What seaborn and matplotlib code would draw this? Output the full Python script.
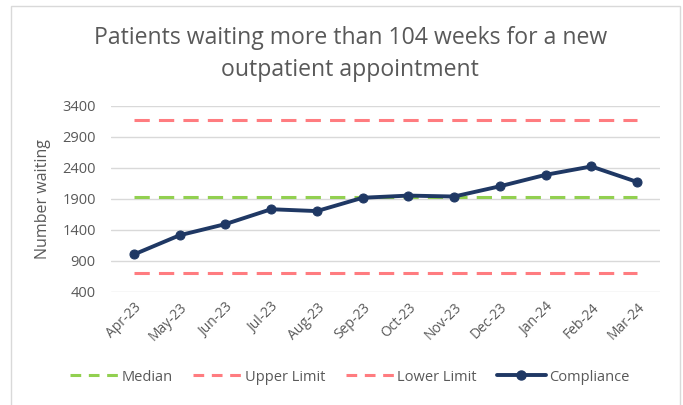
import matplotlib
matplotlib.use("Agg")
import matplotlib.pyplot as plt
import seaborn as sns
import pandas as pd
from matplotlib.lines import Line2D
from matplotlib.patches import Rectangle

# Data
months = ["Apr-23", "May-23", "Jun-23", "Jul-23", "Aug-23", "Sep-23",
          "Oct-23", "Nov-23", "Dec-23", "Jan-24", "Feb-24", "Mar-24"]
compliance = [1000, 1310, 1490, 1730, 1700, 1915, 1950, 1935, 2100, 2285, 2420, 2170]
median = [1930] * 12
upper_limit = [3170] * 12
lower_limit = [700] * 12
y_ticks = [400, 900, 1400, 1900, 2400, 2900, 3400]

df = pd.DataFrame({"Month": months, "Compliance": compliance, "Median": median,
                   "Upper": upper_limit, "Lower": lower_limit})

sns.set_style("white")
plt.rcParams["font.family"] = ["Open Sans", "DejaVu Sans"]

grey = "#595959"
navy = "#1f3864"
red = "#ff7c80"
green = "#92d050"
dash = (0, (5, 3))

fig = plt.figure(figsize=(6.83, 4.05), dpi=100)
ax = fig.add_axes([0.1625, 0.2798, 0.8038, 0.4592])

ax.set_axisbelow(True)
ax.grid(axis="y", color="#d9d9d9", linewidth=1)

x = list(range(len(months)))
sns.lineplot(x=x, y=df["Median"], ax=ax, color=green, linewidth=2.2, linestyle=dash)
sns.lineplot(x=x, y=df["Upper"], ax=ax, color=red, linewidth=2.2, linestyle=dash)
sns.lineplot(x=x, y=df["Lower"], ax=ax, color=red, linewidth=2.2, linestyle=dash)
sns.lineplot(x=x, y=df["Compliance"], ax=ax, color=navy, linewidth=2.8,
             marker="o", markersize=6.5, markeredgecolor=navy)

ax.set_xlim(-0.5, 11.5)
ax.set_ylim(400, 3400)
ax.set_yticks(y_ticks)
ax.set_yticklabels([str(t) for t in y_ticks], color=grey, fontsize=10.5)
ax.set_xticks(x)
ax.set_xticklabels(months, rotation=45, ha="right", rotation_mode="anchor",
                   color=grey, fontsize=10)
ax.tick_params(axis="y", length=0, pad=11)
ax.tick_params(axis="x", length=0, pad=6)
ax.set_xlabel("")
ax.set_ylabel("Number waiting", color=grey, fontsize=11.5, labelpad=8)
for s in ax.spines.values():
    s.set_visible(False)

fig.text(0.513, 0.867, "Patients waiting more than 104 weeks for a new\noutpatient appointment",
         ha="center", va="center", fontsize=16.6, color=grey, linespacing=1.45)

handles = [
    Line2D([], [], color=green, linewidth=2.2, linestyle=(0, (3.5, 2.5))),
    Line2D([], [], color=red, linewidth=2.2, linestyle=(0, (3.5, 2.5))),
    Line2D([], [], color=red, linewidth=2.2, linestyle=(0, (3.5, 2.5))),
    Line2D([], [], color=navy, linewidth=2.8, marker="o", markersize=6.5),
]
fig.legend(handles, ["Median", "Upper Limit", "Lower Limit", "Compliance"],
           loc="center", bbox_to_anchor=(0.512, 0.069), ncol=4, frameon=False,
           fontsize=10.5, labelcolor=grey, handlelength=3.3, handletextpad=0.25,
           columnspacing=1.4)

fig.patches.append(Rectangle((11 / 683, -0.05), 669 / 683, 1.035, transform=fig.transFigure,
                             fill=False, edgecolor="#d9d9d9", linewidth=1))

fig.savefig("out.png", dpi=100, facecolor="white")
